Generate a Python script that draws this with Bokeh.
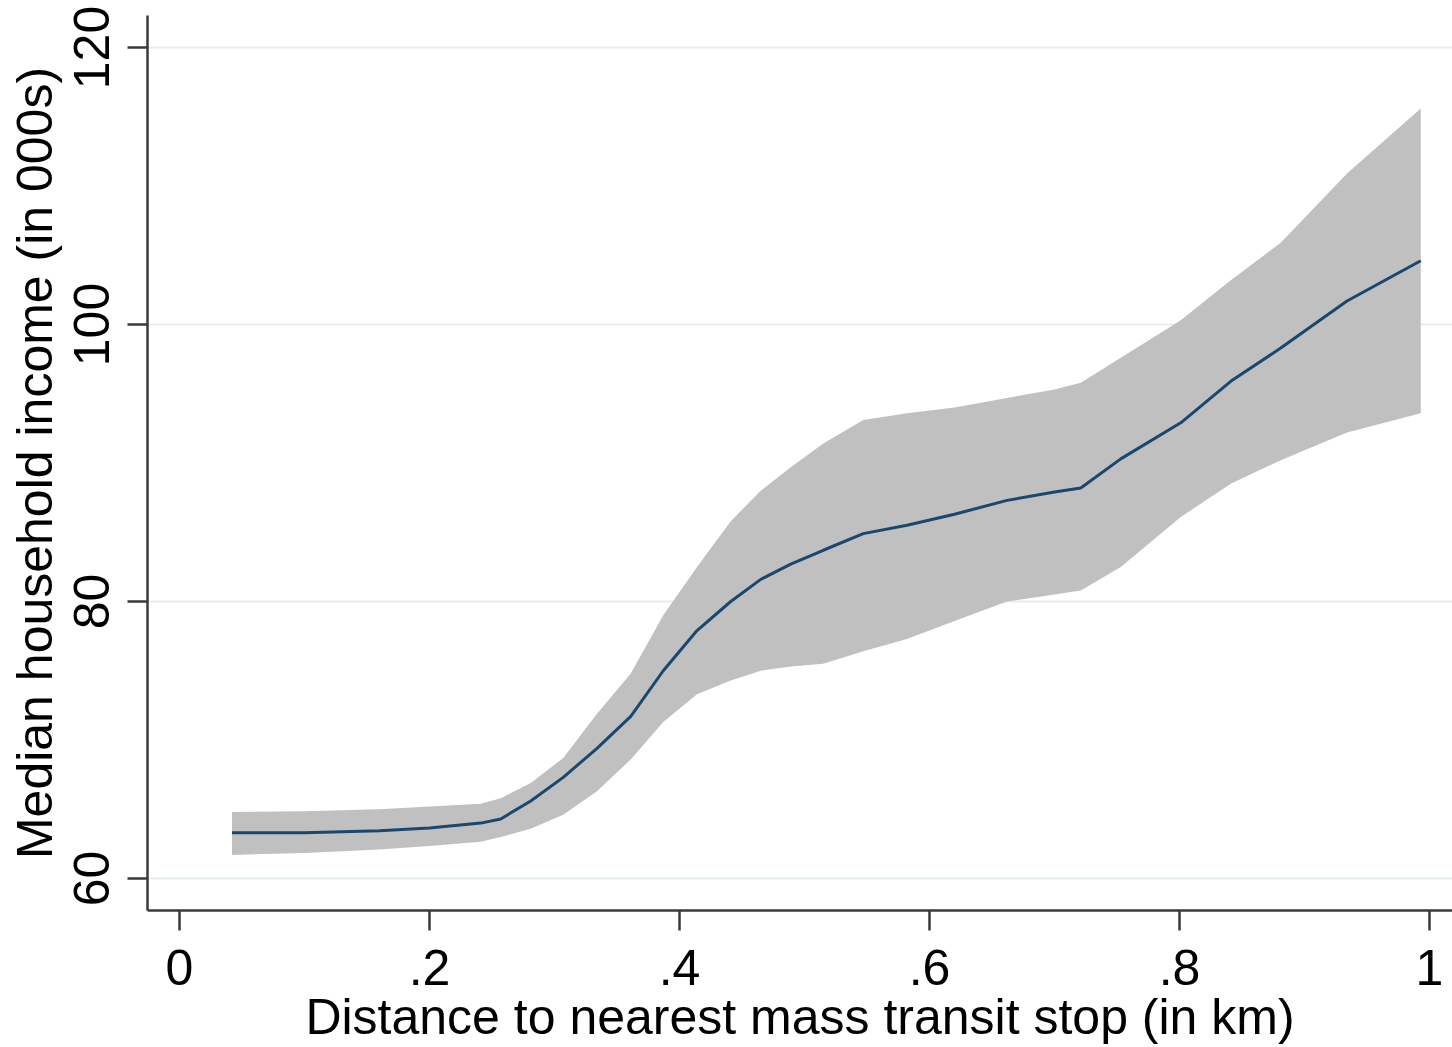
from bokeh.plotting import figure
from bokeh.models import Range1d, FixedTicker
from bokeh.embed import file_html
from bokeh.resources import INLINE

# ---- data ----
distance = [0.042, 0.10, 0.16, 0.20, 0.241, 0.257, 0.281, 0.307, 0.334, 0.361,
            0.387, 0.414, 0.441, 0.465, 0.489, 0.515, 0.547, 0.582, 0.62, 0.662,
            0.70, 0.721, 0.753, 0.801, 0.841, 0.881, 0.934, 0.993]
income_fit = [63.3, 63.3, 63.45, 63.65, 64.0, 64.3, 65.6, 67.3, 69.4, 71.7,
              75.0, 77.9, 80.0, 81.6, 82.7, 83.7, 84.9, 85.5, 86.3, 87.3,
              87.9, 88.2, 90.3, 92.9, 95.9, 98.3, 101.7, 104.6]
ci_upper = [64.8, 64.85, 65.0, 65.2, 65.4, 65.8, 66.9, 68.7, 71.9, 74.8,
            79.0, 82.5, 85.8, 88.0, 89.7, 91.4, 93.1, 93.6, 94.0, 94.7,
            95.3, 95.8, 97.6, 100.3, 103.2, 105.9, 110.9, 115.6]
ci_lower = [61.7, 61.85, 62.1, 62.35, 62.65, 63.0, 63.6, 64.6, 66.3, 68.6,
            71.3, 73.3, 74.3, 75.0, 75.3, 75.5, 76.4, 77.3, 78.6, 80.0,
            80.5, 80.8, 82.5, 86.1, 88.5, 90.2, 92.2, 93.6]

x_ticks = [0, 0.2, 0.4, 0.6, 0.8, 1.0]
x_tick_labels = ["0", ".2", ".4", ".6", ".8", "1"]
y_ticks = [60, 80, 100, 120]
y_tick_labels = ["60", "80", "100", "120"]

x_title = "Distance to nearest mass transit stop (in km)"
y_title = "Median household income (in 000s)"

FONT = "Liberation Sans"
AXIS_COLOR = "#3a3a3a"

p = figure(width=1452, height=1047, output_backend="svg", toolbar_location=None,
           x_range=Range1d(-0.0256, 1.0184), y_range=Range1d(57.69, 122.31),
           min_border_left=147, min_border_right=0, min_border_top=15,
           min_border_bottom=137)
p.outline_line_color = None
p.background_fill_color = "white"
p.border_fill_color = "white"

p.varea(x=distance, y1=ci_lower, y2=ci_upper, fill_color="#c0c0c0", fill_alpha=1.0)
p.line(x=distance, y=income_fit, line_color="#1a476f", line_width=3)

# grid
p.xgrid.grid_line_color = None
p.ygrid.ticker = FixedTicker(ticks=y_ticks)
p.ygrid.grid_line_color = "#e4edf0"
p.ygrid.grid_line_width = 2

for ax in (p.xaxis[0], p.yaxis[0]):
    ax.axis_line_color = AXIS_COLOR
    ax.axis_line_width = 2.5
    ax.major_tick_line_color = AXIS_COLOR
    ax.major_tick_line_width = 2.5
    ax.major_tick_in = 0
    ax.major_tick_out = 20
    ax.minor_tick_line_color = None
    ax.major_label_text_font = FONT
    ax.major_label_text_font_size = "50px"
    ax.major_label_text_color = "black"
    ax.axis_label_text_font = FONT
    ax.axis_label_text_font_size = "50px"
    ax.axis_label_text_font_style = "normal"
    ax.axis_label_text_color = "black"

xa = p.xaxis[0]
xa.ticker = FixedTicker(ticks=x_ticks)
xa.major_label_overrides = {t: l for t, l in zip(x_ticks, x_tick_labels)}
xa.major_label_standoff = 19
xa.axis_label = x_title
xa.axis_label_standoff = 1

ya = p.yaxis[0]
ya.ticker = FixedTicker(ticks=y_ticks)
ya.major_label_overrides = {t: l for t, l in zip(y_ticks, y_tick_labels)}
ya.major_label_orientation = "vertical"
ya.major_label_standoff = 18
ya.axis_label = y_title
ya.axis_label_standoff = 9

html = file_html(p, INLINE)
html = html.replace("<head>", "<head><style>html,body{margin:0;padding:0;overflow:hidden;}</style>", 1)
open("out.html", "w").write(html)
